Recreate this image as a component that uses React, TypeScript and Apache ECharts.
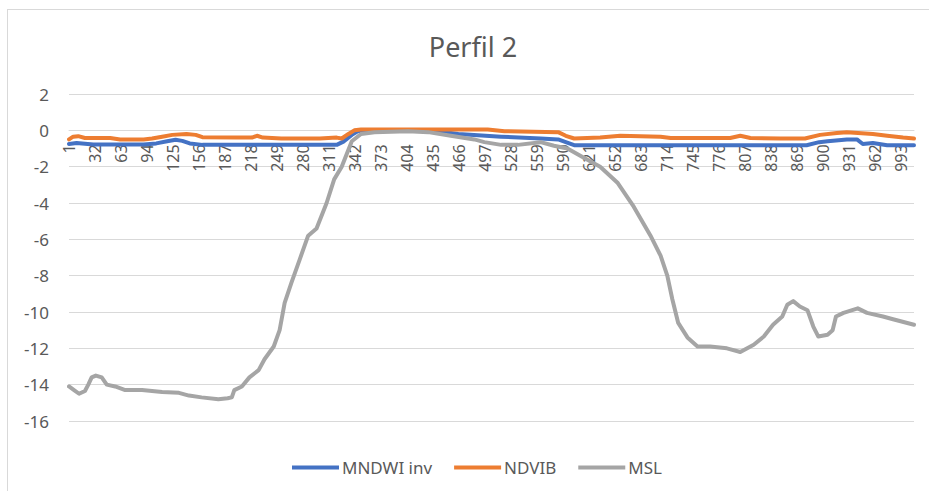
import React, { useEffect, useRef } from "react";
import * as echarts from "echarts";

const TITLE = "Perfil 2";
const CATEGORY_COUNT = 1008;
const CATEGORIES: string[] = Array.from({ length: CATEGORY_COUNT }, (_, i) => String(i + 1));
const Y_TICKS = { min: -16, max: 2, interval: 2 };
const SERIES_NAMES = ["MNDWI inv", "NDVIB", "MSL"];
const COLORS = ["#4472C4", "#ED7D31", "#A5A5A5"];

// [category number, value] samples
const MNDWI_INV: [number, number][] = [
  [1, -0.75], [10, -0.7], [30, -0.78], [90, -0.78], [105, -0.72], [118, -0.6], [128, -0.52],
  [136, -0.58], [145, -0.72], [160, -0.8], [250, -0.8], [320, -0.8], [328, -0.62], [338, -0.25],
  [345, -0.05], [352, 0], [400, 0], [440, -0.05], [465, -0.2], [516, -0.35], [563, -0.45],
  [584, -0.5], [593, -0.65], [603, -0.82], [700, -0.82], [800, -0.82], [880, -0.82], [895, -0.65],
  [905, -0.6], [928, -0.5], [940, -0.5], [947, -0.75], [959, -0.7], [976, -0.82], [1008, -0.82],
];

const NDVIB: [number, number][] = [
  [1, -0.5], [6, -0.35], [12, -0.32], [20, -0.42], [50, -0.42], [62, -0.5], [90, -0.5],
  [100, -0.45], [112, -0.35], [124, -0.25], [141, -0.2], [152, -0.25], [160, -0.38], [200, -0.4],
  [219, -0.4], [225, -0.3], [232, -0.4], [254, -0.45], [278, -0.45], [300, -0.45], [320, -0.4],
  [326, -0.45], [334, -0.2], [341, 0], [349, 0.05], [500, 0.05], [520, -0.05], [584, -0.1],
  [593, -0.3], [603, -0.45], [634, -0.4], [658, -0.3], [706, -0.35], [718, -0.42], [789, -0.42],
  [801, -0.3], [813, -0.42], [849, -0.45], [878, -0.45], [896, -0.25], [916, -0.15], [928, -0.1],
  [959, -0.2], [976, -0.3], [995, -0.4], [1008, -0.45],
];

const MSL: [number, number][] = [
  [1, -14.1], [7, -14.3], [13, -14.5], [20, -14.35], [24, -14.0], [28, -13.6], [33, -13.5],
  [40, -13.6], [46, -14.0], [56, -14.1], [68, -14.3], [88, -14.3], [112, -14.4], [132, -14.45],
  [144, -14.6], [159, -14.7], [179, -14.8], [190, -14.75], [195, -14.7], [198, -14.3], [207, -14.1],
  [216, -13.6], [227, -13.2], [234, -12.6], [245, -11.9], [252, -11.0], [258, -9.5], [266, -8.4],
  [276, -7.1], [286, -5.8], [296, -5.4], [308, -4.0], [317, -2.7], [326, -2.0], [338, -0.6],
  [349, -0.2], [365, -0.1], [405, -0.05], [429, -0.1], [456, -0.3], [484, -0.5], [496, -0.65],
  [516, -0.8], [536, -0.8], [563, -0.65], [579, -0.85], [595, -1.0], [614, -1.5], [634, -2.0],
  [655, -2.9], [674, -4.2], [694, -5.8], [706, -6.9], [714, -8.0], [720, -9.3], [727, -10.6],
  [738, -11.4], [750, -11.9], [765, -11.9], [785, -12.0], [801, -12.2], [817, -11.8], [829, -11.35],
  [840, -10.7], [851, -10.25], [857, -9.6], [864, -9.4], [872, -9.7], [881, -9.9], [888, -10.8],
  [894, -11.35], [905, -11.25], [911, -11.0], [915, -10.25], [924, -10.05], [941, -9.8], [952, -10.05],
  [971, -10.25], [983, -10.4], [1008, -10.7],
];

const SERIES_DATA = [MNDWI_INV, NDVIB, MSL];

const FONT = "'Noto Sans', 'Open Sans', sans-serif";
const TEXT_COLOR = "#595959";
const GRID_COLOR = "#d9d9d9";

const GRID_TOP = 94;
const GRID_BOTTOM = 70;
const GRID_HEIGHT = 491 - GRID_TOP - GRID_BOTTOM;
// distance from the plot bottom up to the value 0 (category axis crosses there)
const ZERO_OFFSET =
  (GRID_HEIGHT * (0 - Y_TICKS.min)) / (Y_TICKS.max - Y_TICKS.min);

export default function App() {
  const ref = useRef<HTMLDivElement>(null);
  useEffect(() => {
    if (!ref.current) return;
    const chart = echarts.init(ref.current, undefined, { renderer: "svg" });
    chart.setOption({
      animation: false,
      backgroundColor: "#ffffff",
      textStyle: { fontFamily: FONT },
      title: {
        text: TITLE,
        left: 468,
        textAlign: "center",
        top: 28,
        textStyle: { fontFamily: FONT, fontSize: 27, fontWeight: "normal", color: TEXT_COLOR },
      },
      legend: {
        data: SERIES_NAMES,
        left: 287,
        top: 454,
        icon: "rect",
        itemWidth: 47,
        itemHeight: 4,
        itemGap: 22,
        textStyle: { fontFamily: FONT, fontSize: 17, color: TEXT_COLOR, padding: [0, 0, 0, -2] },
      },
      graphic: [
        { type: "line", shape: { x1: 7, y1: 9.5, x2: 929, y2: 9.5 }, style: { stroke: GRID_COLOR, lineWidth: 1 } },
        { type: "line", shape: { x1: 7.5, y1: 9, x2: 7.5, y2: 491 }, style: { stroke: GRID_COLOR, lineWidth: 1 } },
      ],
      grid: { left: 69, right: 15, top: GRID_TOP, bottom: GRID_BOTTOM, containLabel: false },
      xAxis: {
        type: "category",
        data: CATEGORIES,
        boundaryGap: false,
        position: "bottom",
        offset: -ZERO_OFFSET,
        axisLine: { onZero: false, lineStyle: { color: GRID_COLOR, width: 1 } },
        axisTick: { show: false },
        axisLabel: {
          interval: 30,
          rotate: 90,
          margin: 14,
          fontFamily: FONT,
          fontSize: 16,
          color: TEXT_COLOR,
        },
        splitLine: { show: false },
      },
      yAxis: {
        type: "value",
        min: Y_TICKS.min,
        max: Y_TICKS.max,
        interval: Y_TICKS.interval,
        axisLine: { show: false },
        axisTick: { show: false },
        axisLabel: { margin: 20, fontFamily: FONT, fontSize: 17, color: TEXT_COLOR },
        splitLine: { lineStyle: { color: GRID_COLOR, width: 1 } },
      },
      series: SERIES_NAMES.map((name, i) => ({
        name,
        type: "line",
        data: SERIES_DATA[i].map(([c, v]) => [String(c), v]),
        showSymbol: false,
        symbol: "none",
        lineStyle: { color: COLORS[i], width: 4, cap: "round", join: "round" },
        itemStyle: { color: COLORS[i] },
        z: 2 + i,
      })),
    });
    return () => chart.dispose();
  }, []);
  return (
    <div
      ref={ref}
      style={{ position: "fixed", left: 0, top: 0, width: 929, height: 491 }}
    />
  );
}
